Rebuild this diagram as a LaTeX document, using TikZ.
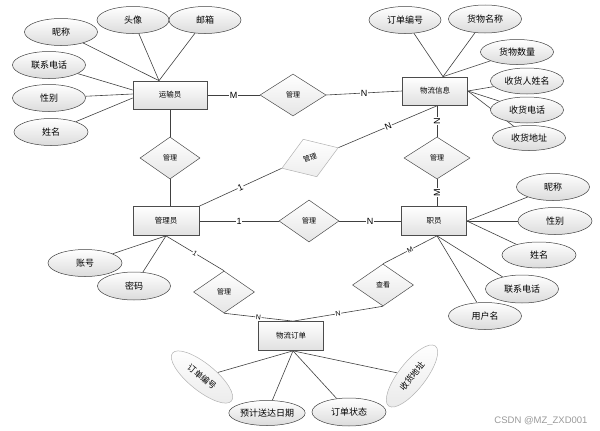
\documentclass[tikz,border=0pt]{standalone}
\usepackage{fontspec}
\setmainfont{Liberation Sans}
\newfontfamily\cjk{Noto Sans CJK SC}
\usetikzlibrary{shapes.geometric}
\pgfdeclarelayer{bg}
\pgfsetlayers{bg,main}
\begin{document}
\begin{tikzpicture}[x=1pt,y=-1pt,
  ent/.style={rectangle, draw=black!70, line width=0.7pt, top color=white, bottom color=black!12,
    minimum width=65pt, minimum height=29pt, inner sep=0pt, font=\cjk\fontsize{7.5}{9}\selectfont},
  attr/.style={ellipse, draw=black!75, line width=0.5pt, top color=white, bottom color=black!14,
    minimum width=73pt, minimum height=27pt, inner sep=0pt, font=\cjk\fontsize{9}{11}\selectfont},
  attrl/.style={attr, draw=black!30, bottom color=black!8, minimum width=76pt, font=\cjk\fontsize{8.5}{10}\selectfont},
  rel/.style={diamond, draw=black!70, line width=0.5pt, top color=white, bottom color=black!10,
    minimum width=61pt, minimum height=42pt, inner sep=0pt, font=\cjk\fontsize{7}{8}\selectfont},
  rell/.style={rel, draw=black!30, bottom color=black!7},
  card/.style={fill=white, inner sep=0.6pt, font=\fontsize{9}{10}\selectfont},
  cards/.style={card, font=\fontsize{7}{8}\selectfont},
  conn/.style={draw=black!75, line width=0.6pt},
  wm/.style={text=black!40, font=\fontsize{9.5}{11}\selectfont}]
\useasboundingbox (0,0) rectangle (600,431);

% entities
\node[ent, minimum width=74pt, minimum height=28pt] (ysy) at (170,95) {运输员};
\node[ent, minimum height=28pt] (wlxx) at (435,91) {物流信息};
\node[ent, minimum width=66pt] (gly) at (166,221) {管理员};
\node[ent] (zy) at (434,221) {职员};
\node[ent] (wldd) at (291,336) {物流订单};

% relationships
\node[rel, minimum width=66pt] (r1) at (293,95) {管理};
\node[rel, minimum width=60pt] (r2) at (170,158) {管理};
\node[rel, minimum width=66pt] (r3) at (437,158) {管理};
\node[rel, minimum width=60pt] (r4) at (309,221) {管理};
\node[rell, minimum width=60pt, minimum height=40pt, rotate=20] (r5) at (310,158) {管理};
\node[rel] (r6) at (224,292) {管理};
\node[rel] (r7) at (383,285) {查看};

% attributes of 运输员
\node[attr] (a1) at (61,32) {昵称};
\node[attr, minimum width=72pt] (a2) at (133,20) {头像};
\node[attr, minimum width=72pt] (a3) at (205,20) {邮箱};
\node[attr] (a4) at (49,65) {联系电话};
\node[attr] (a5) at (49,98) {性别};
\node[attr, minimum width=74pt] (a6) at (51,132) {姓名};

% attributes of 物流信息
\node[attr, minimum width=72pt] (b1) at (405,20) {订单编号};
\node[attr, minimum height=28pt] (b2) at (485,19) {货物名称};
\node[attr, minimum height=25pt] (b3) at (517,52) {货物数量};
\node[attr, minimum height=26pt] (b4) at (527,81) {收货人姓名};
\node[attr, minimum height=26pt] (b5) at (527,110) {收货电话};
\node[attr, minimum height=25pt] (b6) at (529,138) {收货地址};

% attributes of 职员
\node[attr] (c1) at (553,187) {昵称};
\node[attr, minimum width=74pt] (c2) at (555,221) {性别};
\node[attr, minimum width=74pt, minimum height=26pt] (c3) at (539,255) {姓名};
\node[attr, minimum height=28pt] (c4) at (522,289) {联系电话};
\node[attr] (c5) at (485,316) {用户名};

% attributes of 管理员
\node[attr, minimum width=74pt] (d1) at (85,263) {账号};
\node[attr, minimum height=28pt] (d2) at (134,286) {密码};

% attributes of 物流订单
\node[attrl, rotate=-39] (e1) at (202,377) {订单编号};
\node[attr, minimum width=74pt, minimum height=25pt] (e2) at (267,413) {预计送达日期};
\node[attr, minimum width=74pt, minimum height=28pt] (e3) at (349,412) {订单状态};
\node[attrl, rotate=52] (e4) at (412,376) {收货地址};

\begin{pgfonlayer}{bg}
% attribute connectors
\draw[conn] (a1) -- ([xshift=-11pt]ysy.north);
\draw[conn] (a2) -- ([xshift=-11pt]ysy.north);
\draw[conn] (a3) -- ([xshift=-11pt]ysy.north);
\draw[conn] (a4) -- ([yshift=5pt]ysy.west);
\draw[conn] (a5) -- ([yshift=1pt]ysy.west);
\draw[conn] (a6) -- ([yshift=-3pt]ysy.west);

\draw[conn] (b1) -- ([xshift=8pt]wlxx.north);
\draw[conn] (b2) -- ([xshift=8pt]wlxx.north);
\draw[conn] (b3) -- ([xshift=8pt]wlxx.north);
\draw[conn] (b4) -- (wlxx.east);
\draw[conn] (b5) -- (wlxx.east);
\draw[conn] (b6) -- (wlxx.east);

\draw[conn] (c1) -- (zy.east);
\draw[conn] (c2) -- (zy.east);
\draw[conn] (c3) -- (zy.east);
\draw[conn] (c4) -- ([xshift=3pt]zy.south);
\draw[conn] (c5) -- ([xshift=3pt]zy.south);

\draw[conn] (d1) -- (gly.south);
\draw[conn] (d2) -- (gly.south);

\draw[conn] (e1) -- ([xshift=2pt]wldd.south);
\draw[conn] (e2) -- ([xshift=2pt]wldd.south);
\draw[conn] (e3) -- ([xshift=2pt]wldd.south);
\draw[conn] (e4) -- ([xshift=2pt]wldd.south);

% relationship connectors
\draw[conn] (ysy.east) -- node[card]{M} (r1.west);
\draw[conn] (r1.east) -- node[card]{N} (wlxx.west);
\draw[conn] (ysy.south) -- (r2.north);
\draw[conn] (r2.south) -- (r2.south |- gly.north);
\draw[conn] (r3.north) -- node[card, rotate=90]{N} (r3.north |- wlxx.south);
\draw[conn] (r3.south) -- node[card, rotate=90]{M} (r3.south |- zy.north);
\draw[conn] (gly.east) -- node[card]{1} (r4.west);
\draw[conn] (r4.east) -- node[card]{N} (zy.west);
\draw[conn] (gly.north east) -- node[card, sloped]{1} (r5.west);
\draw[conn] (r5.east) -- node[card, sloped]{N} ([xshift=3pt]wlxx.south);
\draw[conn] (gly.south) -- node[cards, sloped]{1} (r6.north);
\draw[conn] (r6.south) -- node[cards, sloped]{N} ([xshift=2pt]wldd.north);
\draw[conn] ([xshift=3pt]zy.south) -- node[cards, sloped]{M} (r7.north);
\draw[conn] (r7.south) -- node[cards, sloped]{N} ([xshift=2pt]wldd.north);
\end{pgfonlayer}

\node[wm] (wmk) at (541,421) {CSDN @MZ\_ZXD001};
\end{tikzpicture}
\end{document}
